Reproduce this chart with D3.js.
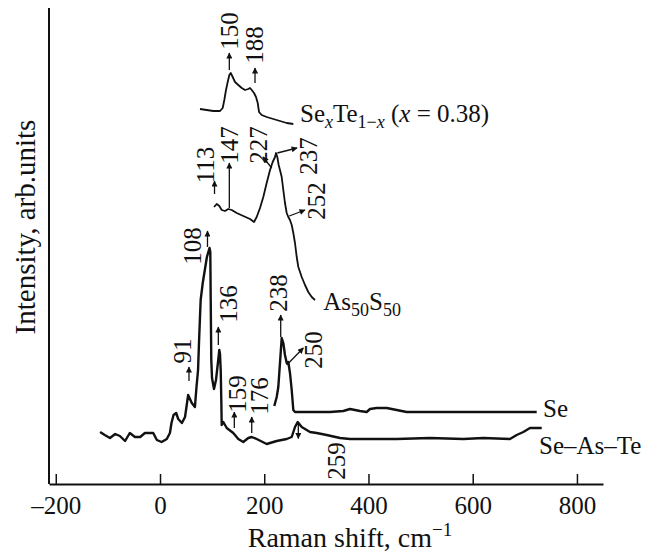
<!DOCTYPE html>
<html>
<head>
<meta charset="utf-8">
<script src="https://cdn.jsdelivr.net/npm/d3@7"></script>
<style>
    body { margin: 0; background: #fff; }
    text { font-family: "Liberation Serif", "Times New Roman", serif; fill: #111; }
</style>
</head>
<body>
<div id="vis"></div>
<script>

// tick labels on the Raman shift axis
const xTicks = [-200, 0, 200, 400, 600, 800];

// spectra: [Raman shift (cm-1), intensity (arb. units)]
const seAsTe = [
    [-115, 52], [-106, 49], [-96, 46], [-86, 50], [-77, 48], [-67, 43], [-58, 51], [-48, 47],
    [-38, 47], [-29, 51], [-19, 51], [-13, 51], [-6, 44], [3, 42], [13, 45], [19, 51],
    [22, 61], [26, 69], [31, 71], [35, 65], [42, 61], [48, 67], [54, 89], [61, 81],
    [67, 77], [70, 97], [73, 114], [75, 144], [78, 184], [82, 201], [86, 214], [90, 227],
    [95, 236], [96.5, 232], [97.3, 184], [98.4, 124], [99.8, 106], [103.6, 95], [107.4, 104],
    [111.3, 122], [113.8, 134], [115.1, 130], [116.5, 114], [117.6, 84], [118.4, 59],
    [121.5, 62], [128, 56], [140.6, 51], [150.2, 45], [159.8, 42], [169.4, 46], [176, 47],
    [185.5, 45], [204.7, 40], [223.9, 43], [243.1, 45], [252.7, 47], [259, 57], [264.2, 62],
    [271.9, 57], [287.8, 52], [300.7, 51], [319.8, 49], [345.4, 46], [364.6, 45], [454.2, 45],
    [518, 46], [582, 45], [620.3, 46], [671.5, 45], [684.4, 49], [697.1, 52], [709.9, 56],
    [732.4, 56]
];

const se = [
    [219.3, 78], [223.9, 87], [227, 97], [230.2, 121], [233.5, 146], [236.6, 141], [239.8, 129],
    [243.1, 121], [246.2, 122], [249.4, 111], [252.7, 94], [255.8, 74], [259, 72], [326.2, 72],
    [351.7, 73], [364.6, 75], [383.7, 73], [396.6, 72], [402.9, 75], [415.8, 76], [435, 76],
    [454.2, 74], [473.3, 72], [581.9, 72], [697.1, 72], [722.8, 72]
];

const as50s50 = [
    [103.6, 277], [108.8, 280], [113.8, 278], [118.4, 274], [124.7, 273], [131, 275],
    [137.6, 274], [147.2, 271], [159.8, 268], [172.7, 265], [180.4, 262], [185.5, 267],
    [191.9, 276], [198.2, 287], [204.7, 301], [211.1, 314], [216.2, 322], [220.7, 327],
    [222.6, 331], [225.1, 327], [227.7, 319], [230.2, 314], [233.5, 307], [236.6, 294],
    [239.8, 281], [243.1, 271], [246.2, 267], [249.4, 264], [252.7, 259], [255.8, 251],
    [259, 241], [262.3, 227], [265.4, 217], [271.9, 207], [278.2, 199], [284.5, 192],
    [291.1, 187], [297.4, 184]
];

const seTe = [
    [76.7, 375], [89.6, 374], [102.3, 373], [115.1, 373], [120.3, 376], [123.4, 384],
    [126.6, 394], [129.9, 402], [133, 409], [135.7, 411], [139.5, 407], [143.9, 402],
    [150.2, 399], [156.8, 396], [163.1, 394], [169.4, 395], [172.7, 396], [176, 394],
    [180.4, 391], [184.2, 387], [187.5, 381], [190, 372], [195.1, 369], [204.7, 367],
    [217.4, 365], [230.2, 363], [243.1, 361], [255.8, 360]
];

// peak labels: text, label centre, arrow from -> to (data units)
const peaks = [
    {t: '150', x: 133.5, y: 453, x1: 133, y1: 414, x2: 133, y2: 431},
    {t: '188', x: 181.3, y: 439, x1: 182.3, y1: 401, x2: 182.3, y2: 416},
    {t: '113', x: 87.9, y: 319, x1: 104.6, y1: 290, x2: 104.6, y2: 303},
    {t: '147', x: 133.5, y: 339, x1: 133, y1: 276, x2: 133, y2: 321},
    {t: '227', x: 189, y: 339, x1: 214.3, y1: 316, x2: 197.6, y2: 327},
    {t: '237', x: 284.9, y: 328, x1: 225.1, y1: 331, x2: 262.9, y2: 336},
    {t: '252', x: 300.3, y: 283, x1: 248.1, y1: 268, x2: 278.2, y2: 274},
    {t: '108', x: 63.3, y: 238, x1: 91.1, y1: 237, x2: 91.1, y2: 253},
    {t: '91', x: 42.2, y: 133, x1: 55.6, y1: 103, x2: 55.6, y2: 117},
    {t: '136', x: 130.5, y: 180, x1: 111.9, y1: 139, x2: 111.9, y2: 157},
    {t: '159', x: 148.7, y: 90, x1: 142.6, y1: 56, x2: 142.6, y2: 72},
    {t: '176', x: 190, y: 88, x1: 176, y1: 51, x2: 176, y2: 67},
    {t: '238', x: 226.4, y: 191, x1: 231.6, y1: 147, x2: 231.6, y2: 169},
    {t: '250', x: 293.6, y: 134, x1: 243.1, y1: 119, x2: 275, y2: 136},
    {t: '259', x: 337.7, y: 23, x1: 265.4, y1: 61, x2: 265.4, y2: 45.5}
];

let width = 648,
    height = 554;

let xScale = d3.scaleLinear()
    .domain([-213, 850])
    .range([49, 603]);

let yScale = d3.scaleLinear()
    .domain([0, 476])
    .range([484, 8]);

let svg = d3.select('#vis')
    .append('svg')
    .attr('width', width)
    .attr('height', height);

svg.append('defs')
    .append('marker')
    .attr('id', 'arrow')
    .attr('viewBox', '0 0 10 10')
    .attr('refX', 9)
    .attr('refY', 5)
    .attr('markerWidth', 7)
    .attr('markerHeight', 6)
    .attr('markerUnits', 'userSpaceOnUse')
    .attr('orient', 'auto')
    .append('path')
    .attr('d', 'M0,0L10,5L0,10z')
    .attr('fill', '#111');

// Axis
let xAxis = d3.axisBottom(xScale)
    .tickValues(xTicks)
    .tickSizeInner(-10)
    .tickSizeOuter(0)
    .tickPadding(12)
    .tickFormat(d => d < 0 ? '\u2013' + Math.abs(d) : d);

let xGuide = svg.append('g')
    .attr('transform', 'translate(0,' + yScale(0) + ')')
    .call(xAxis);

xGuide.select('.domain').attr('stroke', '#111').attr('stroke-width', 2);
xGuide.selectAll('.tick line').attr('stroke', '#111').attr('stroke-width', 1.5);
xGuide.selectAll('.tick text')
    .attr('fill', '#111')
    .style('font-size', '25px')
    .style('font-family', '"Liberation Serif", "Times New Roman", serif');

svg.append('line')
    .attr('x1', xScale.range()[0])
    .attr('x2', xScale.range()[0])
    .attr('y1', yScale(0))
    .attr('y2', yScale.range()[1])
    .attr('stroke', '#111')
    .attr('stroke-width', 2);

// axis titles
let xTitle = svg.append('text')
    .attr('x', 350)
    .attr('y', 547)
    .attr('text-anchor', 'middle')
    .style('font-size', '28px');
xTitle.append('tspan').text('Raman shift, cm');
xTitle.append('tspan').attr('dy', -11).style('font-size', '19px').text('\u22121');

svg.append('text')
    .attr('transform', 'translate(25,227) rotate(-90)')
    .attr('text-anchor', 'middle')
    .attr('dominant-baseline', 'central')
    .style('font-size', '29px')
    .text('Intensity, arb.units');

// spectra
let line = d3.line()
    .x(d => xScale(d[0]))
    .y(d => yScale(d[1]));

let spectra = [
    {data: seAsTe, w: 2.4},
    {data: se, w: 2.4},
    {data: as50s50, w: 1.8},
    {data: seTe, w: 1.8}
];

svg.selectAll('path.spectrum')
    .data(spectra)
    .enter()
    .append('path')
    .attr('class', 'spectrum')
    .attr('d', d => line(d.data))
    .attr('fill', 'none')
    .attr('stroke', '#111')
    .attr('stroke-width', d => d.w)
    .attr('stroke-linejoin', 'round');

// peak arrows and labels
svg.selectAll('line.arrow')
    .data(peaks)
    .enter()
    .append('line')
    .attr('class', 'arrow')
    .attr('x1', d => xScale(d.x1))
    .attr('y1', d => yScale(d.y1))
    .attr('x2', d => xScale(d.x2))
    .attr('y2', d => yScale(d.y2))
    .attr('stroke', '#111')
    .attr('stroke-width', 1.3)
    .attr('marker-end', 'url(#arrow)');

svg.selectAll('text.peak')
    .data(peaks)
    .enter()
    .append('text')
    .attr('class', 'peak')
    .attr('transform', d => 'translate(' + xScale(d.x) + ',' + yScale(d.y) + ') rotate(-90)')
    .attr('text-anchor', 'middle')
    .attr('dominant-baseline', 'central')
    .style('font-size', '25px')
    .text(d => d.t);

// series names
function richText(sel, parts) {
    let cur = 0;
    parts.forEach(p => {
        let off = p.sub ? 6 : 0;
        sel.append('tspan')
            .attr('dy', off - cur)
            .style('font-size', p.sub ? '18px' : null)
            .style('font-style', p.it ? 'italic' : null)
            .text(p.t);
        cur = off;
    });
}

let seTeLabel = svg.append('text')
    .attr('x', xScale(268.6))
    .attr('y', yScale(362))
    .style('font-size', '25px');
richText(seTeLabel, [
    {t: 'Se'}, {t: 'x', sub: true, it: true}, {t: 'Te'}, {t: '1\u2212', sub: true},
    {t: 'x', sub: true, it: true}, {t: ' ('}, {t: 'x', it: true}, {t: ' = 0.38)'}
]);

let asLabel = svg.append('text')
    .attr('x', xScale(313.3))
    .attr('y', yScale(174))
    .style('font-size', '25px');
richText(asLabel, [{t: 'As'}, {t: '50', sub: true}, {t: 'S'}, {t: '50', sub: true}]);

svg.append('text')
    .attr('x', xScale(734.9))
    .attr('y', yScale(67))
    .style('font-size', '25px')
    .text('Se');

svg.append('text')
    .attr('x', xScale(727.2))
    .attr('y', yScale(30))
    .style('font-size', '25px')
    .text('Se\u2013As\u2013Te');

</script>
</body>
</html>
